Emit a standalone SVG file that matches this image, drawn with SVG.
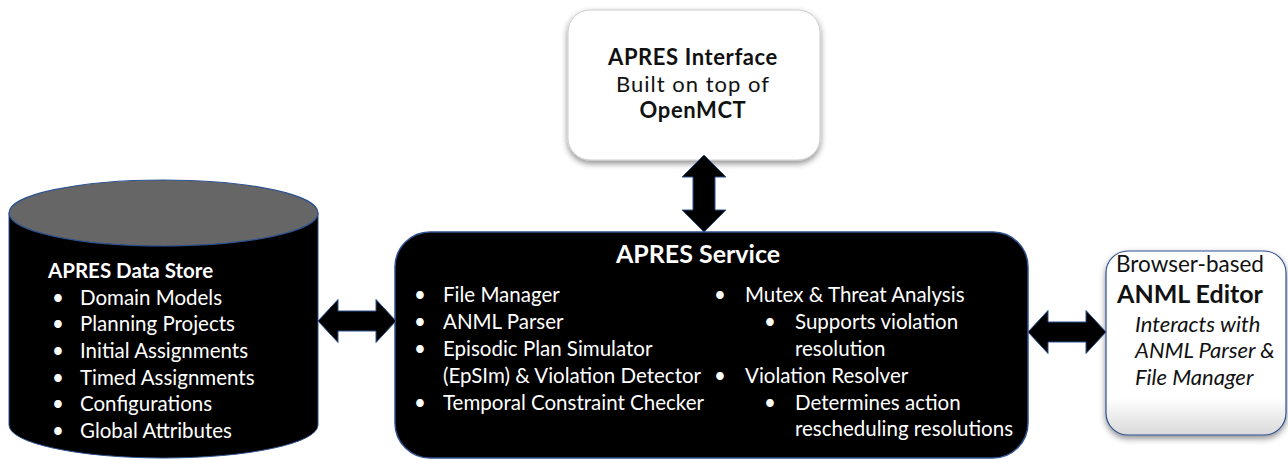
<svg xmlns="http://www.w3.org/2000/svg" width="1288" height="460" viewBox="0 0 1288 460">
<defs>
<style>
.t{font-family:Lato,"Open Sans","Liberation Sans",sans-serif;}
.w{fill:#ffffff;}
.k{fill:#111111;}
.b{font-weight:bold;}
.it{font-style:italic;}
.arr{fill:#000000;stroke:#2F528F;stroke-width:1;stroke-linejoin:miter;}
</style>
<linearGradient id="edGrad" x1="0" y1="0" x2="0" y2="1">
<stop offset="0" stop-color="#ffffff"/>
<stop offset="0.8" stop-color="#ffffff"/>
<stop offset="1" stop-color="#d9d9d9"/>
</linearGradient>
<filter id="sh" x="-10%" y="-10%" width="120%" height="130%">
<feDropShadow dx="0" dy="3" stdDeviation="3" flood-color="#000" flood-opacity="0.45"/>
</filter>
</defs>
<rect width="1288" height="460" fill="#ffffff"/>

<g id="datastore">
<path d="M9,213 L9,425 A154.5,33 0 0 0 318,425 L318,213 Z" fill="#000000" stroke="#2F528F" stroke-width="1"/>
<ellipse cx="163.5" cy="213" rx="154.5" ry="33" fill="#666666" stroke="#2F528F" stroke-width="1.2"/>
<g class="t w" font-size="20.5">
<text x="48" y="278" class="b">APRES Data Store</text>
<text x="52" y="304.7">•</text><text x="80" y="304.7">Domain Models</text>
<text x="52" y="331.3">•</text><text x="80" y="331.3">Planning Projects</text>
<text x="52" y="358">•</text><text x="80" y="358">Initial Assignments</text>
<text x="52" y="384.7">•</text><text x="80" y="384.7">Timed Assignments</text>
<text x="52" y="411.3">•</text><text x="80" y="411.3">Configurations</text>
<text x="52" y="438">•</text><text x="80" y="438">Global Attributes</text>
</g>
</g>

<g id="interface">
<rect x="568" y="10" width="252" height="150" rx="22" fill="#ffffff" stroke="#cccccc" stroke-width="1" filter="url(#sh)"/>
<g class="t k" font-size="22" text-anchor="middle" letter-spacing="0.6">
<text x="693" y="65" class="b">APRES Interface</text>
<text x="693" y="91.5" letter-spacing="1">Built on top of</text>
<text x="693" y="118" class="b">OpenMCT</text>
</g>
</g>

<g id="service">
<rect x="395" y="232" width="633" height="226" rx="35" fill="#000000" stroke="#2F528F" stroke-width="1.5"/>
<text x="698" y="263" class="t w b" font-size="25" text-anchor="middle">APRES Service</text>
<g class="t w" font-size="20.5">
<text x="414" y="302">•</text><text x="443" y="302">File Manager</text>
<text x="414" y="329">•</text><text x="443" y="329">ANML Parser</text>
<text x="414" y="356">•</text><text x="443" y="356">Episodic Plan Simulator</text>
<text x="443" y="383">(EpSIm) &amp; Violation Detector</text>
<text x="414" y="410">•</text><text x="443" y="410">Temporal Constraint Checker</text>
<text x="714" y="302">•</text><text x="745" y="302">Mutex &amp; Threat Analysis</text>
<text x="764" y="329">•</text><text x="795" y="329">Supports violation</text>
<text x="795" y="356">resolution</text>
<text x="714" y="383">•</text><text x="745" y="383">Violation Resolver</text>
<text x="764" y="410">•</text><text x="795" y="410">Determines action</text>
<text x="795" y="436">rescheduling resolutions</text>
</g>
</g>

<g id="editor">
<rect x="1106" y="251" width="180" height="184" rx="22" fill="url(#edGrad)" stroke="#2F528F" stroke-width="1.2" filter="url(#sh)"/>
<g class="t k">
<text x="1190" y="272" text-anchor="middle" font-size="22.5">Browser-based</text>
<text x="1190" y="303" text-anchor="middle" class="b" font-size="25">ANML Editor</text>
<text x="1135" y="332" class="it" font-size="22">Interacts with</text>
<text x="1135" y="358" class="it" font-size="22">ANML Parser &amp;</text>
<text x="1135" y="385" class="it" font-size="22">File Manager</text>
</g>
</g>

<g id="connectors">
<polygon class="arr" points="318,321 338,299.5 338,311 376,311 376,299.5 396,321 376,342.5 376,331 338,331 338,342.5"/>
<polygon class="arr" points="1028,332 1048,310.5 1048,322 1086,322 1086,310.5 1106,332 1086,353.5 1086,342 1048,342 1048,353.5"/>
<polygon class="arr" points="704,155 726,177 715,177 715,210 726,210 704,232 682,210 693,210 693,177 682,177"/>
</g>
</svg>
